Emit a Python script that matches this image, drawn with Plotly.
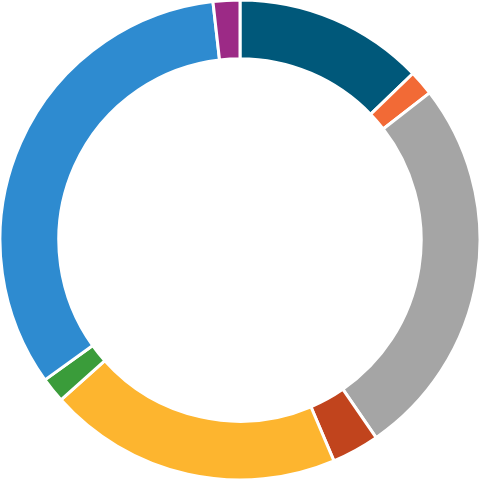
import plotly.graph_objects as go

labels = ["A", "B", "C", "D", "E", "F", "G", "H"]
values = [12.8, 1.7, 25.9, 3.2, 19.8, 1.7, 33.1, 1.8]
colors = ["#00587a", "#f26a36", "#a5a5a5", "#c1441d", "#fdb52f", "#3a9c3a", "#2e8bd0", "#9c2a86"]

fig = go.Figure(go.Pie(
    labels=labels, values=values, hole=0.755, sort=False,
    direction="clockwise", rotation=0,
    marker=dict(colors=colors, line=dict(color="white", width=3)),
    textinfo="none", hoverinfo="label+percent",
))
fig.update_layout(width=480, height=480, margin=dict(l=0, r=0, t=0, b=0),
                  showlegend=False, paper_bgcolor="white", plot_bgcolor="white")
fig.write_html("out.html", config={"displayModeBar": False},
               post_script="document.body.style.margin='0';document.body.style.overflow='hidden';")
